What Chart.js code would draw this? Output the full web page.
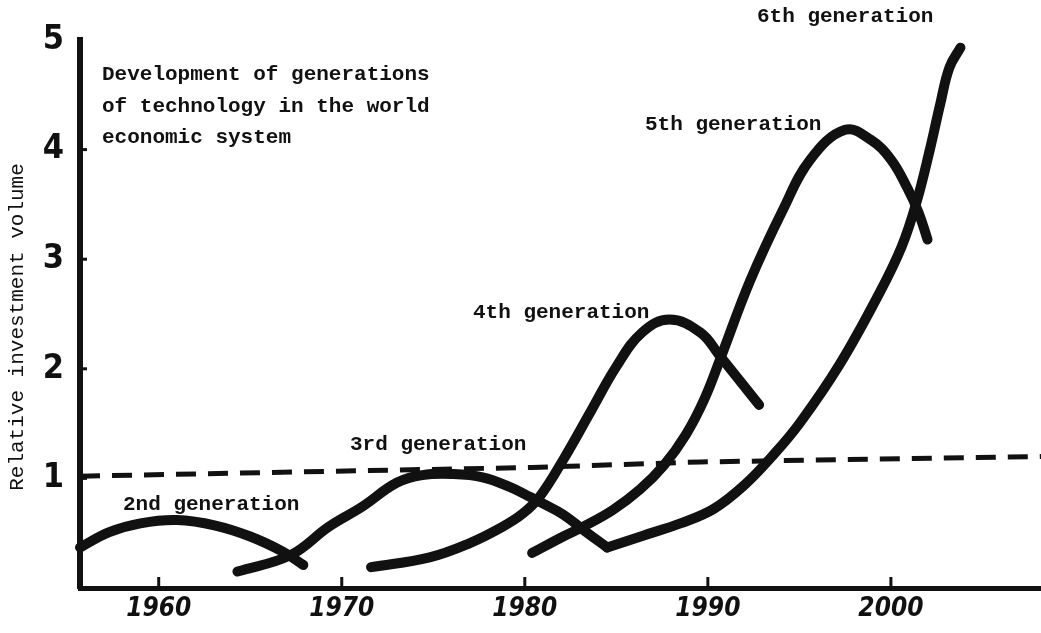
<!DOCTYPE html>
<html>
<head>
<meta charset="utf-8">
<script src="https://cdn.jsdelivr.net/npm/chart.js@4.4.0/dist/chart.umd.min.js"></script>
<style>
  body { margin: 0; background: #fff; }
  #wrap { width: 1041px; height: 633px; }
</style>
</head>
<body>
<div id="wrap"><canvas id="gen-chart" width="1041" height="633"></canvas></div>
<script>
// values (x = year, y = relative investment volume)
const years2nd = [1955.7, 1957.3, 1959.0, 1961.0, 1963.1, 1965.0, 1966.8, 1967.9];
const vals2nd = [0.37, 0.51, 0.59, 0.62, 0.57, 0.47, 0.33, 0.21];

const years3rd = [1964.3, 1967.2, 1969.3, 1971.1, 1973.0, 1974.4, 1976.1, 1977.7, 1979.2, 1980.3, 1981.0, 1982.1, 1983.2, 1984.5];
const vals3rd = [0.15, 0.30, 0.56, 0.74, 0.96, 1.03, 1.04, 1.01, 0.92, 0.83, 0.77, 0.67, 0.53, 0.37];

const years4th = [1971.6, 1974.8, 1977.0, 1978.8, 1979.9, 1980.8, 1982.1, 1983.6, 1985.0, 1986.4, 1987.9, 1989.6, 1990.6, 1992.8];
const vals4th = [0.19, 0.28, 0.41, 0.56, 0.68, 0.83, 1.17, 1.61, 2.02, 2.33, 2.45, 2.33, 2.13, 1.67];

const years5th = [1980.4, 1982.1, 1983.2, 1984.8, 1986.3, 1987.6, 1988.8, 1989.8, 1990.7, 1992.3, 1994.1, 1995.6, 1997.5, 1998.9, 2000.0, 2000.9, 2001.5, 2002.0];
const vals5th = [0.32, 0.47, 0.56, 0.71, 0.90, 1.12, 1.40, 1.72, 2.10, 2.80, 3.45, 3.91, 4.18, 4.09, 3.91, 3.65, 3.43, 3.18];

const years6th = [1984.5, 1986.5, 1988.5, 1990.3, 1992.0, 1993.5, 1995.0, 1997.2, 1999.4, 2000.6, 2001.4, 2002.1, 2002.7, 2003.2, 2003.8];
const vals6th = [0.37, 0.48, 0.59, 0.72, 0.94, 1.20, 1.50, 2.04, 2.70, 3.12, 3.52, 3.98, 4.42, 4.75, 4.93];

// dashed reference level
const yearsLevel = [1955.7, 1980.4, 1989.6, 2008.2];
const valsLevel = [1.02, 1.10, 1.15, 1.20];

const tickYears = [1960, 1970, 1980, 1990, 2000];
const tickVals = [1, 2, 3, 4, 5];

const titleLines = ['Development of generations', 'of technology in the world', 'economic system'];
const genNames = ['2nd generation', '3rd generation', '4th generation', '5th generation', '6th generation'];

const typeFont = '"Liberation Mono", "DejaVu Sans Mono", monospace';
const handFont = '"DejaVu Sans Condensed", "DejaVu Sans", sans-serif';

function pts(xs, ys) {
    return xs.map((x, i) => ({ x: x, y: ys[i] }));
}

function curve(xs, ys) {
    return {
        data: pts(xs, ys),
        showLine: true,
        borderColor: '#111',
        borderWidth: 10,
        pointRadius: 0,
        tension: 0.4,
        borderCapStyle: 'round',
        borderJoinStyle: 'round',
        clip: false
    };
}

// inner tick marks and the hand-placed text of the figure
const figureText = {
    id: 'figureText',
    afterDraw(chart) {
        const ctx = chart.ctx;
        const xs = chart.scales.x, ys = chart.scales.y;
        const bottom = chart.chartArea.bottom, left = chart.chartArea.left;
        ctx.save();
        ctx.strokeStyle = '#111';
        ctx.lineWidth = 3;
        tickYears.forEach(yr => {
            const px = xs.getPixelForValue(yr);
            ctx.beginPath();
            ctx.moveTo(px, bottom);
            ctx.lineTo(px, bottom - 11);
            ctx.stroke();
        });
        tickVals.slice(0, 4).forEach(v => {
            const py = ys.getPixelForValue(v);
            ctx.beginPath();
            ctx.moveTo(left, py);
            ctx.lineTo(left + 7, py);
            ctx.stroke();
        });

        ctx.fillStyle = '#111';
        ctx.font = 'bold 21px ' + typeFont;
        ctx.textBaseline = 'middle';
        ctx.textAlign = 'left';
        const titleY = [75, 107, 138];
        titleLines.forEach((t, i) => ctx.fillText(t, 102, titleY[i]));

        const labelPos = [[123, 505], [350, 445], [473, 313], [645, 125], [757, 17]];
        genNames.forEach((t, i) => ctx.fillText(t, labelPos[i][0], labelPos[i][1]));

        // axis title, centred where the original puts it
        ctx.font = '21px ' + typeFont;
        ctx.textAlign = 'center';
        ctx.translate(17, 327);
        ctx.rotate(-Math.PI / 2);
        ctx.fillText('Relative investment volume', 0, 0);
        ctx.restore();
    }
};

const ctx = document.getElementById('gen-chart').getContext('2d');

const genChart = new Chart(ctx, {
    type: 'scatter',
    data: {
        datasets: [
            {
                data: pts(yearsLevel, valsLevel),
                showLine: true,
                borderColor: '#111',
                borderWidth: 5,
                borderDash: [20, 12],
                pointRadius: 0,
                tension: 0,
                clip: false
            },
            curve(years2nd, vals2nd),
            curve(years3rd, vals3rd),
            curve(years4th, vals4th),
            curve(years5th, vals5th),
            curve(years6th, vals6th)
        ]
    },
    options: {
        responsive: false,
        animation: false,
        layout: { padding: { top: 40, right: 0, left: 0, bottom: 0 } },
        plugins: {
            legend: { display: false },
            tooltip: { enabled: false }
        },
        scales: {
            x: {
                type: 'linear',
                min: 1955.7,
                max: 2008.2,
                afterBuildTicks: (scale) => { scale.ticks = tickYears.map(v => ({ value: v })); },
                afterFit: (scale) => { scale.height = 45; },
                grid: { drawOnChartArea: false, drawTicks: false },
                border: { color: '#111', width: 5 },
                ticks: {
                    padding: 6,
                    maxRotation: 0,
                    minRotation: 0,
                    color: '#111',
                    font: { family: handFont, size: 26, weight: 'bold', style: 'italic' },
                    callback: (v) => String(v)
                }
            },
            y: {
                min: 0,
                max: 5,
                afterBuildTicks: (scale) => { scale.ticks = tickVals.map(v => ({ value: v })); },
                afterFit: (scale) => { scale.width = 80; },
                grid: { drawOnChartArea: false, drawTicks: false },
                border: { color: '#111', width: 6 },
                ticks: {
                    padding: 16,
                    color: '#111',
                    font: { family: handFont, size: 34, weight: 'bold' }
                }
            }
        }
    },
    plugins: [figureText]
});
</script>
</body>
</html>
